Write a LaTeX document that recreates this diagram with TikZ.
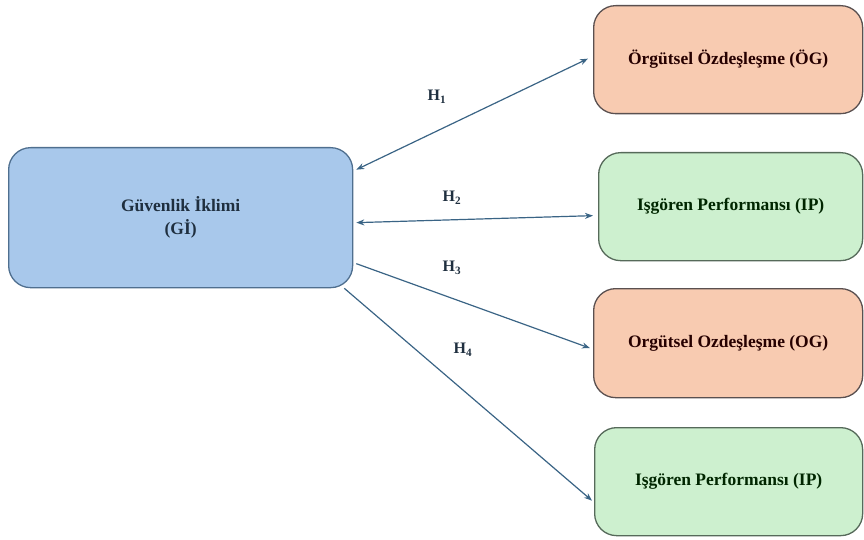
\documentclass[tikz,border=0pt]{standalone}
\usepackage{fontspec}
\setmainfont{Liberation Serif}
\usetikzlibrary{arrows.meta}
\definecolor{bluefill}{HTML}{A8C8EB}
\definecolor{blueline}{HTML}{4F6F8F}
\definecolor{peachfill}{HTML}{F8CBB1}
\definecolor{peachline}{HTML}{5A5050}
\definecolor{greenfill}{HTML}{CDF0CF}
\definecolor{greenline}{HTML}{566A5A}
\definecolor{arrowcol}{HTML}{3A6485}
\definecolor{textdark}{HTML}{1F2F3F}
\tikzset{
  box/.style={rounded corners=22pt, line width=1.3pt, inner sep=0pt, anchor=north west,
    font=\fontsize{17.5}{23}\selectfont\bfseries, align=center},
  gibox/.style={box, fill=bluefill, draw=blueline, text=textdark},
  ogbox/.style={box, fill=peachfill, draw=peachline, text=black!85!red},
  ipbox/.style={box, fill=greenfill, draw=greenline, text=black!85!green},
  conn/.style={draw=arrowcol, line width=1.2pt},
  tip/.style={-{Stealth[length=8pt,width=6pt]}},
  tips/.style={{Stealth[length=8pt,width=6pt]}-{Stealth[length=8pt,width=6pt]}},
  hlab/.style={font=\fontsize{16}{18}\selectfont\bfseries, text=textdark}
}
\begin{document}
\begin{tikzpicture}[x=1pt,y=-1pt]
\useasboundingbox (0,0) rectangle (864,540);
\node[gibox, minimum width=344pt, minimum height=140pt] (gi) at (8,147) {Güvenlik İklimi\\(Gİ)};
\node[ogbox, minimum width=269pt, minimum height=108pt] (og1) at (593,5) {Örgütsel Özdeşleşme (ÖG)};
\node[ipbox, minimum width=264pt, minimum height=108pt] (ip1) at (598,152) {Işgören Performansı (IP)};
\node[ogbox, minimum width=269pt, minimum height=109pt] (og2) at (593,288) {Orgütsel Ozdeşleşme (OG)};
\node[ipbox, minimum width=268pt, minimum height=108pt] (ip2) at (594,427) {Işgören Performansı (IP)};

\draw[conn, tips] ([xshift=3pt,yshift=48pt]gi.east) -- ([xshift=-5pt,yshift=1pt]og1.west);
\draw[conn, tips] ([xshift=3pt,yshift=-5pt]gi.east) -- ([xshift=-5pt,yshift=-9pt]ip1.west);
\draw[conn, tip] ([xshift=3pt,yshift=-46pt]gi.east) -- ([xshift=-3pt,yshift=-5pt]og2.west);
\draw[conn, tip] ([xshift=-9pt]gi.south east) -- ([xshift=-2pt,yshift=-19pt]ip2.west);

\node[hlab] (h1) at (437,97) {H\textsubscript{1}};
\node[hlab] (h2) at (452,198) {H\textsubscript{2}};
\node[hlab] (h3) at (452,268) {H\textsubscript{3}};
\node[hlab] (h4) at (463,350) {H\textsubscript{4}};
\end{tikzpicture}
\end{document}
